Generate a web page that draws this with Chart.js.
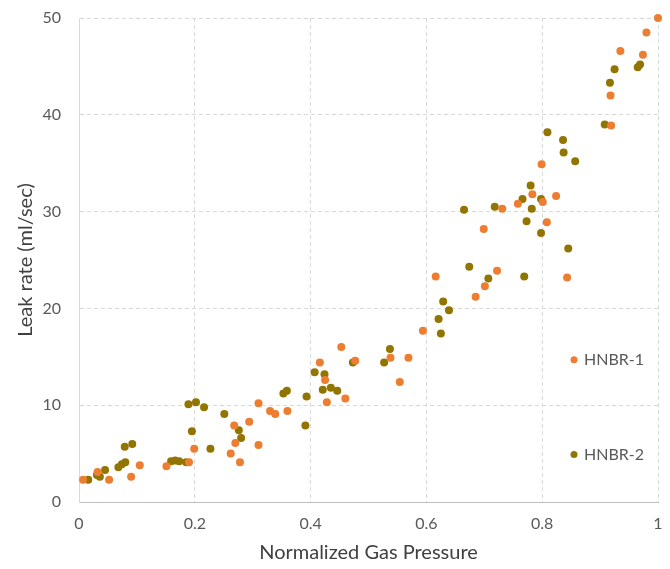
<!DOCTYPE html>
<html>
<head>
<meta charset="utf-8">
<script src="https://cdn.jsdelivr.net/npm/chart.js@4.4.1/dist/chart.umd.min.js"></script>
<style>
  html, body { margin: 0; padding: 0; background: #fff; }
  #wrap { width: 670px; height: 569px; }
</style>
</head>
<body>
<div id="wrap"><canvas id="chart" width="670" height="569"></canvas></div>
<script>
// HNBR-1 samples
const pressure1 = [0.007, 0.032, 0.052, 0.09, 0.105, 0.151, 0.19, 0.199, 0.262, 0.268, 0.27, 0.278, 0.294, 0.31, 0.31, 0.33, 0.339, 0.36,
  0.416, 0.425, 0.428, 0.453, 0.46, 0.477, 0.538, 0.554, 0.569, 0.594, 0.616, 0.685, 0.699, 0.701, 0.722, 0.731, 0.758, 0.783,
  0.799, 0.801, 0.808, 0.824, 0.843, 0.918, 0.919, 0.935, 0.974, 0.98, 1.0];
const leak1 = [2.3, 3.1, 2.3, 2.6, 3.8, 3.7, 4.1, 5.5, 5.0, 7.9, 6.1, 4.1, 8.3, 10.2, 5.9, 9.4, 9.1, 9.4,
  14.4, 12.6, 10.3, 16.0, 10.7, 14.6, 14.9, 12.4, 14.9, 17.7, 23.3, 21.2, 28.2, 22.3, 23.9, 30.3, 30.8, 31.8,
  34.9, 31.0, 28.9, 31.6, 23.2, 42.0, 38.9, 46.6, 46.2, 48.5, 50.0];

// HNBR-2 samples
const pressure2 = [0.016, 0.031, 0.036, 0.045, 0.068, 0.074, 0.08, 0.079, 0.092, 0.159, 0.166, 0.173, 0.185, 0.189, 0.195, 0.202, 0.216,
  0.227, 0.251, 0.276, 0.28, 0.353, 0.359, 0.391, 0.393, 0.407, 0.421, 0.424, 0.435, 0.446, 0.473, 0.527, 0.537, 0.621, 0.625,
  0.629, 0.639, 0.665, 0.674, 0.707, 0.718, 0.766, 0.769, 0.773, 0.78, 0.782, 0.798, 0.798, 0.809, 0.836, 0.837, 0.845, 0.857,
  0.908, 0.917, 0.925, 0.965, 0.969];
const leak2 = [2.3, 2.8, 2.6, 3.3, 3.6, 3.9, 4.1, 5.7, 6.0, 4.2, 4.3, 4.2, 4.1, 10.1, 7.3, 10.3, 9.8,
  5.5, 9.1, 7.4, 6.6, 11.2, 11.5, 7.9, 10.9, 13.4, 11.6, 13.2, 11.8, 11.5, 14.4, 14.4, 15.8, 18.9, 17.4,
  20.7, 19.8, 30.2, 24.3, 23.1, 30.5, 31.3, 23.3, 29.0, 32.7, 30.3, 31.3, 27.8, 38.2, 37.4, 36.1, 26.2, 35.2,
  39.0, 43.3, 44.7, 44.9, 45.2];

const seriesNames = ['HNBR-1', 'HNBR-2'];
const seriesColors = ['#ED7D31', '#927500'];
const xTicks = [0, 0.2, 0.4, 0.6, 0.8, 1];
const yTicks = [0, 10, 20, 30, 40, 50];

const FONT = 'Lato, "Open Sans", sans-serif';

const toPoints = (xs, ys) => xs.map((x, i) => ({ x: x, y: ys[i] }));

// legend sits inside the plot, one entry per series, spread down the right side
const sideLegend = {
  id: 'sideLegend',
  afterDatasetsDraw(chart) {
    const ctx = chart.ctx;
    const yScale = chart.scales.y;
    const rows = [14.7, 4.9];
    ctx.save();
    ctx.font = '16px ' + FONT;
    ctx.textBaseline = 'middle';
    seriesNames.forEach((name, i) => {
      const y = yScale.getPixelForValue(rows[i]);
      ctx.fillStyle = seriesColors[i];
      ctx.beginPath();
      ctx.arc(574, y, 3.5, 0, Math.PI * 2);
      ctx.fill();
      ctx.fillStyle = '#595959';
      ctx.fillText(name, 584, y);
    });
    ctx.restore();
  }
};

new Chart(document.getElementById('chart'), {
  type: 'scatter',
  data: {
    datasets: [
      {
        label: seriesNames[0],
        data: toPoints(pressure1, leak1),
        backgroundColor: seriesColors[0],
        borderColor: seriesColors[0],
        pointRadius: 4,
        borderWidth: 0,
        clip: false
      },
      {
        label: seriesNames[1],
        data: toPoints(pressure2, leak2),
        backgroundColor: seriesColors[1],
        borderColor: seriesColors[1],
        pointRadius: 4,
        borderWidth: 0,
        clip: false
      }
    ]
  },
  options: {
    responsive: false,
    animation: false,
    layout: { padding: { top: 18, right: 12, left: 0, bottom: 0 } },
    plugins: {
      legend: { display: false },
      tooltip: { enabled: false }
    },
    scales: {
      x: {
        type: 'linear',
        min: 0,
        max: 1,
        afterBuildTicks: (axis) => { axis.ticks = xTicks.map(v => ({ value: v })); },
        afterFit: (axis) => { axis.height = 67; },
        // invisible tick marks keep the labels clear of the axis
        grid: { color: '#d9d9d9', tickColor: 'rgba(0,0,0,0)', tickLength: 9 },
        border: { display: true, color: '#bfbfbf', dash: [4, 3] },
        ticks: {
          padding: 3,
          color: '#595959',
          font: { family: FONT, size: 16 },
          callback: (v) => String(v)
        },
        title: {
          display: true,
          text: 'Normalized Gas Pressure',
          color: '#404040',
          font: { family: FONT, size: 20 },
          padding: { top: 4, bottom: 4 }
        }
      },
      y: {
        type: 'linear',
        min: 0,
        max: 50,
        afterBuildTicks: (axis) => { axis.ticks = yTicks.map(v => ({ value: v })); },
        afterFit: (axis) => { axis.width = 79; },
        grid: { color: '#d9d9d9', tickColor: 'rgba(0,0,0,0)', tickLength: 15 },
        border: { display: true, color: '#d9d9d9', dash: [4, 3] },
        ticks: {
          padding: 3,
          color: '#595959',
          font: { family: FONT, size: 16 }
        },
        title: {
          display: true,
          text: 'Leak rate (ml/sec)',
          color: '#404040',
          font: { family: FONT, size: 20 },
          padding: { top: 14, bottom: 0 }
        }
      }
    }
  },
  plugins: [sideLegend]
});
</script>
</body>
</html>
